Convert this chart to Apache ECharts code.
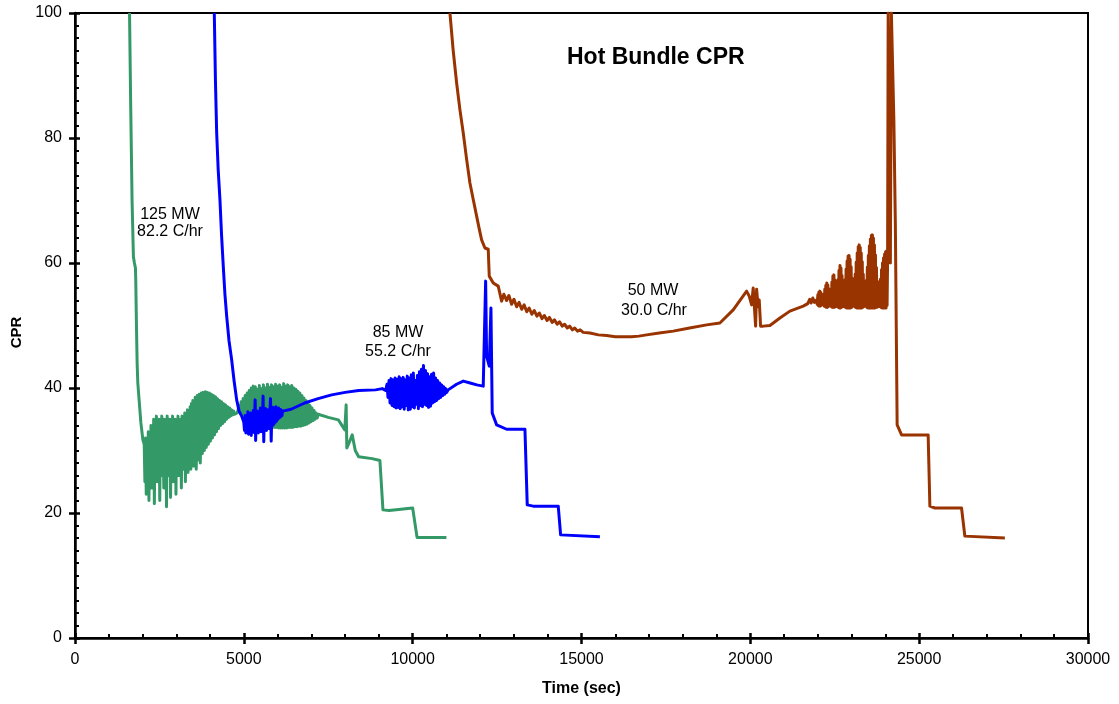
<!DOCTYPE html>
<html>
<head>
<meta charset="utf-8">
<script src="https://cdn.jsdelivr.net/npm/echarts@6/dist/echarts.min.js"></script>
<style>html,body{margin:0;padding:0;background:#fff}#c{width:1119px;height:704px}</style>
</head>
<body>
<div id="c"></div>
<script>
// ---- data (time in s, CPR) ----
var xTicks = [0, 5000, 10000, 15000, 20000, 25000, 30000];
var yTicks = [0, 20, 40, 60, 80, 100];

var green125 = [
 [1615,100],[1650,85],[1690,70],[1730,61],[1760,60],[1790,59.2],[1800,57],[1820,50],[1840,44],[1860,40.8],[1900,38],[1950,34.5],[2010,31.7],
 [2050,31],[2070,25],[2090,32],[2110,23],[2130,30],[2150,27],[2170,33],[2190,22],[2210,31],[2230,26],[2250,34],[2270,24],[2290,33],[2310,27],
 [2330,35],[2350,21.5],[2370,34],[2390,27],[2410,35.5],[2430,25],[2450,33],[2470,28],[2490,35],[2510,22],[2530,34],[2550,26],[2570,35.5],
 [2590,27],[2610,33],[2630,24],[2650,35],[2670,28],[2690,34],[2710,21],[2730,35.5],[2750,26],[2770,33],[2790,28],[2810,35],[2830,22.5],
 [2850,34],[2870,27],[2890,35.5],[2910,25],[2930,33],[2950,28],[2970,35],[2990,23],[3010,34],[3030,27],[3050,35.5],[3070,26],[3090,34],
 [3110,28],[3130,35],[3150,24],[3170,35.5],[3190,27],[3210,34],[3230,28],[3250,36],[3270,25],[3290,35],[3310,28],[3330,36.5],[3350,26.5],
 [3370,36],[3390,28.5],[3410,37],[3430,27],[3450,37.5],[3470,29],[3490,38],[3510,27.5],
 [3530,28],[3560,38.5],[3590,27],[3620,38.8],[3650,28.5],[3680,39],[3710,28],[3740,39.2],[3770,29.5],[3800,39.3],[3830,30],[3860,39.4],
 [3890,30.5],[3920,39.3],[3950,31],[3980,39.2],[4010,31.5],[4040,39],[4070,32],[4100,38.8],[4130,32.5],[4160,38.6],[4190,33],[4220,38.3],
 [4250,33.5],[4280,38],[4310,34],[4340,37.8],[4370,34.3],[4400,37.5],[4430,34.6],[4460,37.3],[4490,35],[4520,37],[4550,35.3],[4580,36.8],
 [4610,35.5],[4640,36.5],[4670,35.7],[4700,36.3],[4730,35.8],[4760,36.1],[4800,36],
 [4830,36.5],[4860,37.2],[4890,36],[4920,37.8],[4950,35.6],[4980,38.3],[5010,35.3],[5040,38.8],[5070,35],[5100,39.2],[5130,34.8],[5160,39.6],
 [5190,34.6],[5220,40],[5250,34.4],[5280,40.3],[5310,34.3],[5340,40.2],[5370,34.2],[5400,39.8],[5430,34.1],[5460,40.4],[5490,34],[5520,39.9],
 [5550,34],[5580,40.5],[5610,33.9],[5640,40],[5670,33.9],[5700,40.6],[5730,33.8],[5760,40.1],[5790,33.8],[5820,40.5],[5850,33.7],[5880,40.2],
 [5910,33.7],[5940,40.6],[5970,33.7],[6000,40.3],[6030,33.6],[6060,40.5],[6090,33.6],[6120,40.1],[6150,33.6],[6180,40.7],[6210,33.6],[6240,40.3],
 [6270,33.6],[6300,40.5],[6330,33.7],[6360,40.2],[6390,33.7],[6420,40.4],[6450,33.7],[6480,40],[6510,33.8],[6540,39.8],[6570,33.8],[6600,39.5],
 [6630,33.9],[6660,39.2],[6690,33.9],[6720,38.8],[6750,34],[6780,38.4],[6810,34.1],[6840,38],[6870,34.2],[6900,37.6],[6930,34.4],[6960,37.2],
 [6990,34.6],[7020,36.8],[7050,34.8],[7080,36.4],[7110,35],[7140,36],[7170,35.2],[7200,35.8],[7250,35.5],
 [7500,35.3],[7800,34.9],[7990,33.3],[8030,37.3],[8050,30.4],[8100,31],[8210,32.5],[8300,30],[8400,29],[8800,28.7],[9030,28.4],
 [9120,20.5],[9300,20.4],[10000,20.8],[10130,16.1],[11000,16.1]
];

var blue85 = [
 [4125,100],[4160,89],[4196,80.8],[4240,75],[4293,70.1],[4340,64.5],[4391,59.5],[4440,55],[4492,51.5],[4560,47.6],[4640,44.5],[4710,41.2],
 [4788,38.1],[4860,36.3],[4936,35.5],
 [5000,34.5],[5020,33.2],[5040,35.6],[5060,32.8],[5080,35],[5100,33.5],[5120,36.2],[5140,32.6],[5160,35.4],[5180,33.1],[5200,36],[5220,32.4],
 [5240,35.2],[5260,33.6],[5280,36.4],[5300,32.9],[5320,35.5],[5335,38.1],[5350,31.6],[5370,35.8],[5390,33.1],[5410,36.3],[5430,32.8],[5450,35.6],
 [5470,33.5],[5490,36.8],[5510,33],[5530,35.9],[5550,33.6],[5570,38.7],[5590,31.4],[5610,36.2],[5630,33.4],[5650,36.7],[5670,33.2],[5690,35.8],
 [5710,33.9],[5730,36.5],[5750,33.5],[5770,35.9],[5790,38.3],[5810,31.5],[5830,36.4],[5850,34],[5870,36.9],[5890,34.2],[5910,36.4],[5930,34.5],
 [5950,37],[5970,34.7],[5990,36.6],[6010,35],[6030,36.8],[6050,35.2],[6070,36.6],[6090,35.4],[6110,36.5],[6130,35.6],[6150,36.3],[6200,36],
 [6400,36.6],[6800,37.6],[7200,38.3],[7600,38.9],[8000,39.3],[8400,39.6],[8900,39.7],[9100,39.9],
 [9200,39.6],[9240,40.6],[9270,38.5],[9300,41.2],[9330,37.6],[9360,41.5],[9390,37.2],[9420,41.3],[9450,37],[9480,41.6],[9510,36.8],[9540,41.4],
 [9570,36.9],[9600,41.8],[9630,36.7],[9660,41.5],[9690,37],[9720,41.7],[9750,36.6],[9780,41.3],[9810,37.2],[9840,41.9],[9870,36.5],[9900,41.6],
 [9930,36.6],[9960,42.1],[9990,37],[10020,42.4],[10050,36.8],[10080,41.2],[10110,37.4],[10140,42],[10170,36.7],[10200,42.6],[10230,37.2],
 [10260,43],[10290,37],[10320,43.6],[10350,37.4],[10380,42.8],[10410,37.2],[10440,42.3],[10470,36.9],[10500,41.8],[10530,37.1],[10560,42.2],
 [10590,37.6],[10620,42.4],[10650,37.8],[10680,41.6],[10710,38],[10740,41.2],[10770,38.3],[10800,40.8],[10830,38.5],[10860,40.5],[10890,38.8],
 [10920,40.2],[10950,39],[10980,39.9],[11010,39.3],[11050,39.7],[11100,39.6],
 [11300,40.6],[11500,41.1],[11700,40.8],[11900,40.5],[12090,40.3],[12161,57.1],[12190,45.1],[12268,43.5],[12318,52.8],[12356,36],[12487,34.1],
 [12783,33.4],[13325,33.4],[13393,21.3],[13570,21.1],[14311,21.1],[14382,16.5],[15545,16.2]
];

var brown50 = [
 [11104,100],[11200,94],[11302,88.8],[11400,84.5],[11498,80.8],[11600,76.5],[11696,72.8],[11800,70],[11894,67.5],[11970,65.5],[12042,63.7],
 [12140,62.4],[12238,62.2],[12268,57.9],[12386,56.8],[12534,56.3],
 [12635,53.9],[12700,55],[12780,54],[12850,54.8],[12930,53.4],[13000,54.2],[13080,53],[13150,53.7],[13230,52.6],[13300,53.3],[13380,52.2],
 [13450,52.8],[13530,51.8],[13600,52.4],[13680,51.5],[13750,52],[13830,51.1],[13900,51.6],[13980,50.8],[14050,51.3],[14130,50.5],[14200,50.9],
 [14280,50.2],[14350,50.6],[14430,49.9],[14500,50.2],[14580,49.6],[14650,49.9],[14730,49.3],[14800,49.6],[14880,49.1],[14960,49.3],[15050,48.9],
 [15250,48.8],[15500,48.5],[15744,48.4],[16000,48.2],[16484,48.2],[16700,48.3],[16928,48.5],[17300,48.8],[17716,49.1],[18200,49.6],[18705,50.1],
 [19098,50.4],[19493,52.5],[19890,55.5],[19967,54.7],[20038,53.3],[20085,56],[20120,53],[20156,49.9],[20186,55.8],[20230,53],[20263,54.1],
 [20304,49.9],[20381,49.9],[20580,50],[20876,51.2],[21172,52.3],[21566,53.1],[21700,53.5],[21760,54.2],[21800,53.6],[21850,54.4],[21900,53.7],
 [21962,54.1],
 [21970,54.4],[21980,53.4],[22000,54.9],[22010,53.2],[22030,55.3],[22040,53.1],[22060,55.5],[22070,53.1],[22090,55.3],[22100,53.2],[22120,54.9],
 [22130,53.3],[22150,54.4],[22160,53.6],
 [22175,55],[22190,53.1],[22205,55.8],[22220,53],[22235,56.4],[22250,52.9],[22265,56.8],[22280,52.9],[22295,56.5],[22310,53],[22325,55.9],
 [22340,53.2],[22355,54.8],
 [22370,53.5],[22385,55.5],[22400,53],[22415,56.9],[22430,52.9],[22445,57.9],[22460,52.9],[22475,58.1],[22490,52.9],[22505,57.3],[22520,53],
 [22535,56],[22550,53.4],
 [22565,55.2],[22580,53],[22595,57.3],[22610,52.9],[22625,58.8],[22640,52.8],[22655,59.6],[22670,52.8],[22685,59.2],[22700,52.9],[22715,58],
 [22730,53],[22745,56.2],[22760,53.5],
 [22775,55.2],[22790,53],[22805,57.3],[22820,52.9],[22835,59],[22850,52.8],[22865,60.3],[22880,52.8],[22895,61.1],[22910,52.8],[22925,61.2],
 [22940,52.8],[22955,60.6],[22970,52.8],[22985,59.4],[23000,52.9],[23015,57.6],[23030,53.1],[23045,55.2],
 [23060,53.6],[23075,56],[23090,53],[23105,58.2],[23120,52.9],[23135,60.1],[23150,52.8],[23165,61.6],[23180,52.8],[23195,62.6],[23210,52.8],
 [23225,62.9],[23240,52.8],[23255,62.5],[23270,52.8],[23285,61.6],[23300,52.8],[23315,60.2],[23330,52.9],[23345,58.2],[23360,53],[23375,56],
 [23390,53.5],
 [23405,55],[23420,53.1],[23435,57.2],[23450,52.9],[23465,59.3],[23480,52.8],[23495,61.2],[23510,52.8],[23525,62.7],[23540,52.8],[23555,63.8],
 [23570,52.8],[23585,64.4],[23600,52.8],[23615,64.5],[23630,52.8],[23645,64],[23660,52.8],[23675,62.9],[23690,52.8],[23705,61.3],[23720,52.9],
 [23735,59.3],[23750,52.9],[23765,57.1],[23780,53],[23795,55.2],[23810,53.4],
 [23825,55.6],[23840,53],[23855,57.4],[23870,52.9],[23885,58.9],[23900,52.8],[23915,60],[23930,52.8],[23945,60.8],[23960,52.8],[23975,61.4],
 [23990,52.8],[24005,61.8],[24020,52.8],[24035,61.9],[24050,53.2],[24065,60.5],
 [24082,100],[24117,100],[24147,60],[24177,100],[24221,100],[24251,82.7],[24295,66],[24348,34.1],[24479,32.5],[25266,32.5],
 [25317,21.1],[25465,20.8],[26255,20.8],[26353,16.3],[27537,16.0]
];

var labels = [
  {x: 170, y: 215, t: '125 MW'}, {x: 170, y: 232, t: '82.2 C/hr'},
  {x: 398, y: 333, t: '85 MW'}, {x: 398, y: 352, t: '55.2 C/hr'},
  {x: 653, y: 291, t: '50 MW'}, {x: 654, y: 311, t: '30.0 C/hr'}
];

var FONT = 'Liberation Sans, Arial, sans-serif';
var chart = echarts.init(document.getElementById('c'), null, {renderer: 'canvas'});

function mkSeries(name, data, color) {
  return {
    name: name, type: 'line', data: data, showSymbol: false, symbol: 'none',
    lineStyle: {color: color, width: 3, join: 'round'}, itemStyle: {color: color},
    clip: true, animation: false, xAxisIndex: 0, yAxisIndex: 0
  };
}
function plain(v) { return String(v); }

var option = {
  animation: false,
  backgroundColor: '#fff',
  title: {
    text: 'Hot Bundle CPR', left: 567, top: 46, padding: 0,
    textStyle: {fontFamily: FONT, fontSize: 23, fontWeight: 'bold', color: '#000'}
  },
  grid: {left: 75, right: 31, top: 13, bottom: 66, show: true, borderColor: '#000', borderWidth: 2, backgroundColor: 'transparent'},
  xAxis: [{
    type: 'value', min: xTicks[0], max: xTicks[xTicks.length - 1], interval: 5000, position: 'bottom',
    name: 'Time (sec)', nameLocation: 'middle', nameGap: 43,
    nameTextStyle: {fontFamily: FONT, fontSize: 16, fontWeight: 'bold', color: '#000'},
    axisLine: {show: true, lineStyle: {color: '#000', width: 2.5}},
    axisTick: {show: true, inside: true, length: 5, lineStyle: {color: '#000', width: 2.5}},
    minorTick: {show: true, splitNumber: 5, length: 4, lineStyle: {color: '#000', width: 2}},
    axisLabel: {fontFamily: FONT, fontSize: 16, color: '#000', margin: 14, formatter: plain},
    splitLine: {show: false}
  }, {
    type: 'value', min: xTicks[0], max: xTicks[xTicks.length - 1], interval: 5000, position: 'bottom', offset: 0,
    axisLine: {show: false}, axisLabel: {show: false}, splitLine: {show: false},
    axisTick: {show: true, inside: false, length: 6, lineStyle: {color: '#000', width: 2.5}}
  }],
  yAxis: [{
    type: 'value', min: yTicks[0], max: yTicks[yTicks.length - 1], interval: 20, position: 'left',
    name: 'CPR', nameLocation: 'middle', nameGap: 50, nameRotate: 90,
    nameTextStyle: {fontFamily: FONT, fontSize: 15, fontWeight: 'bold', color: '#000', padding: [0, 14, 0, 0]},
    axisLine: {show: true, lineStyle: {color: '#000', width: 2.5}},
    axisTick: {show: true, inside: true, length: 5, lineStyle: {color: '#000', width: 2.5}},
    minorTick: {show: true, splitNumber: 10, length: 4, lineStyle: {color: '#000', width: 2}},
    axisLabel: {fontFamily: FONT, fontSize: 16, color: '#000', margin: 13, formatter: plain},
    splitLine: {show: false}
  }, {
    type: 'value', min: yTicks[0], max: yTicks[yTicks.length - 1], interval: 20, position: 'left', offset: 0,
    axisLine: {show: false}, axisLabel: {show: false}, splitLine: {show: false},
    axisTick: {show: true, inside: false, length: 6, lineStyle: {color: '#000', width: 2.5}}
  }],
  series: [
    mkSeries('125 MW', green125, '#339966'),
    mkSeries('85 MW', blue85, '#0000ff'),
    mkSeries('50 MW', brown50, '#993300')
  ],
  graphic: labels.map(function (l) {
    return {type: 'text', x: l.x, y: l.y, silent: true, z: 100,
      style: {text: l.t, fill: '#000', font: '16px ' + FONT, textAlign: 'center', textVerticalAlign: 'middle'}};
  })
};
chart.setOption(option);
</script>
</body>
</html>
